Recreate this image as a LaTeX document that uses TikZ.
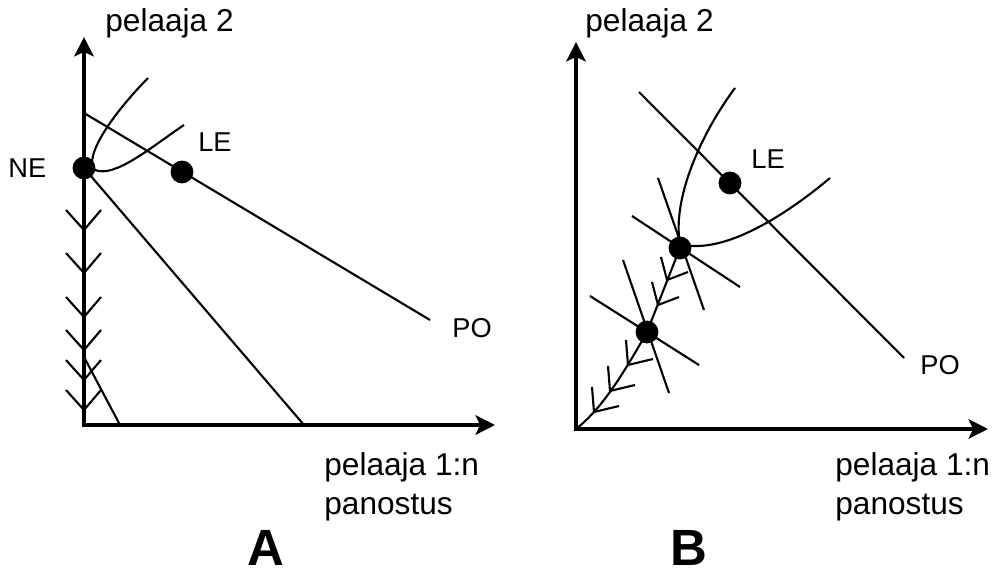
\documentclass[tikz,border=0pt]{standalone}
\usepackage{fontspec}
\setmainfont{Liberation Sans}
\usetikzlibrary{arrows.meta}

\begin{document}
\begin{tikzpicture}[x=0.02cm, y=-0.02cm,
  akseli/.style={line width=2.6pt, line join=miter,
    {Stealth[length=11pt,width=11pt,inset=2.5pt]}-{Stealth[length=11pt,width=11pt,inset=2.5pt]}},
  viiva/.style={line width=1.2pt},
  piste/.style={circle, fill=black, minimum size=13pt, inner sep=0pt},
  otsikko/.style={font=\fontsize{18}{18.7}\selectfont, inner sep=0pt},
  merkki/.style={font=\fontsize{15.5}{18}\selectfont, inner sep=0pt},
  kirjain/.style={font=\fontsize{29}{31}\selectfont\bfseries, inner sep=0pt}]

\useasboundingbox (0,0) rectangle (1001,577);

% Kuva A: akselit
\coordinate (oA) at (84,425);
\coordinate (yA) at (84,37);
\coordinate (xA) at (495,425);
\draw[akseli] (yA) -- (oA) -- (xA);

% Kuva A: pisteet
\node[piste] (neA) at (84,168) {};
\node[piste] (leA) at (182,172) {};

% Kuva A: suorat
\coordinate (poA1) at (84,113);
\coordinate (poA2) at (430,320);
\coordinate (kA) at (304,425);
\coordinate (sA1) at (84,357);
\coordinate (sA2) at (120,425);
\draw[viiva] (poA1) -- (poA2);
\draw[viiva] (neA.center) -- (kA);
\draw[viiva] (sA1) -- (sA2);

% Kuva A: kayra
\draw[viiva] (148,78) .. controls (105,122) and (84,160) .. (95,170)
  .. controls (115,178) and (150,148) .. (184,125);

% Kuva A: nuolet alaspain
\foreach \y in {230,273,317,350,380,410}
  \draw[viiva] (66,{\y-20}) -- (84,\y) -- (101,{\y-20});

% Kuva A: tekstit
\node[otsikko, anchor=base west] (p2A) at (105,32) {pelaaja 2};
\node[otsikko, anchor=north west, align=left] (p1A) at (324,452) {pelaaja 1:n\\[3.5pt]panostus};
\node[merkki, anchor=west] (neT) at (8,168) {NE};
\node[merkki, anchor=west] (leTA) at (198,142) {LE};
\node[merkki, anchor=west] (poTA) at (452,328) {PO};
\node[kirjain] (kirjA) at (266,548) {A};

% Kuva B: akselit
\coordinate (oB) at (576,429);
\coordinate (yB) at (576,42);
\coordinate (xB) at (988,429);
\draw[akseli] (yB) -- (oB) -- (xB);

% Kuva B: pisteet
\node[piste] (leB) at (730,183) {};
\node[piste] (d2) at (680,248) {};
\node[piste] (d3) at (647,332) {};

% Kuva B: suorat
\coordinate (poB1) at (639,92);
\coordinate (poB2) at (904,358);
\draw[viiva] (poB1) -- (poB2);
\draw[viiva] (658,178) -- (704,310);
\draw[viiva] (632,216) -- (740,287);
\draw[viiva] (623,260) -- (669,393);
\draw[viiva] (590,296) -- (699,365);

% Kuva B: kayra
\draw[viiva] (735,88) .. controls (700,135) and (672,200) .. (680,244)
  .. controls (720,255) and (780,220) .. (830,178);

% Kuva B: polku origoon
\draw[viiva] (d2.center) -- (d3.center) .. controls (620,380) and (600,410) .. (oB);
\foreach \x/\y in {667/280,658/305}
  \draw[viiva] ({\x-6},{\y-23}) -- (\x,\y) -- ({\x+21},{\y-8});
\foreach \x/\y in {628/365,610/391,594/412}
  \draw[viiva] ({\x-2},{\y-25}) -- (\x,\y) -- ({\x+25},{\y-6});

% Kuva B: tekstit
\node[otsikko, anchor=base west] (p2B) at (585,32) {pelaaja 2};
\node[otsikko, anchor=north west, align=left] (p1B) at (835,452) {pelaaja 1:n\\[3.5pt]panostus};
\node[merkki, anchor=west] (leTB) at (751,159) {LE};
\node[merkki, anchor=west] (poTB) at (920,365) {PO};
\node[kirjain] (kirjB) at (689,548) {B};

\end{tikzpicture}
\end{document}
